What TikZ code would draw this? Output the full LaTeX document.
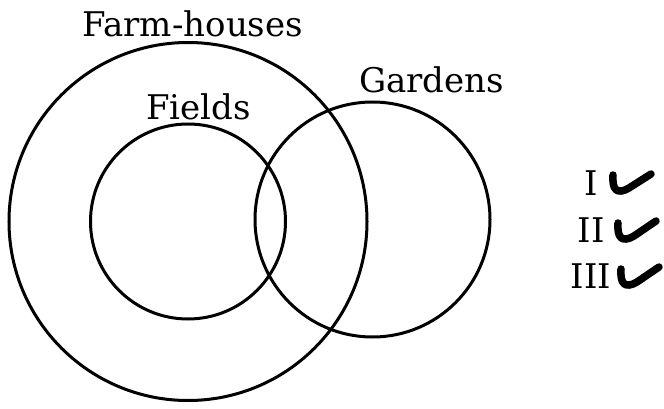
\documentclass[tikz,border=0pt]{standalone}
\usepackage{fontspec}
\setmainfont{DejaVu Serif}
\begin{document}
\begin{tikzpicture}[x=1pt,y=-1pt,
  ring/.style={circle,draw,line width=3pt,inner sep=0pt,minimum size=#1},
  lbl/.style={anchor=base,inner sep=0pt,font=\fontsize{34}{38}\selectfont},
  tick/.style={line width=7.5pt,line cap=round,line join=round}]
\useasboundingbox (0,0) rectangle (664,409);
\node[ring=358pt] (farm) at (188,221.5) {};
\node[ring=195pt] (fields) at (188,221.5) {};
\node[ring=235pt] (gardens) at (372.5,219.5) {};
\node[lbl] (tfarm) at (192.5,37) {Farm-houses};
\node[lbl] (tfields) at (198.5,120) {Fields};
\node[lbl] (tgardens) at (431.5,93) {Gardens};
\node[lbl] (n1) at (591,195) {I};
\node[lbl] (n2) at (591,242) {II};
\node[lbl] (n3) at (591,288) {III};
\draw[tick] (613,175) .. controls (612,190) and (617,195) .. (629,188) -- (651,174);
\draw[tick] (618,223) .. controls (617,238) and (622,243) .. (634,236) -- (656,221);
\draw[tick] (621,269) .. controls (620,284) and (625,289) .. (637,282) -- (659,267);
\end{tikzpicture}
\end{document}
